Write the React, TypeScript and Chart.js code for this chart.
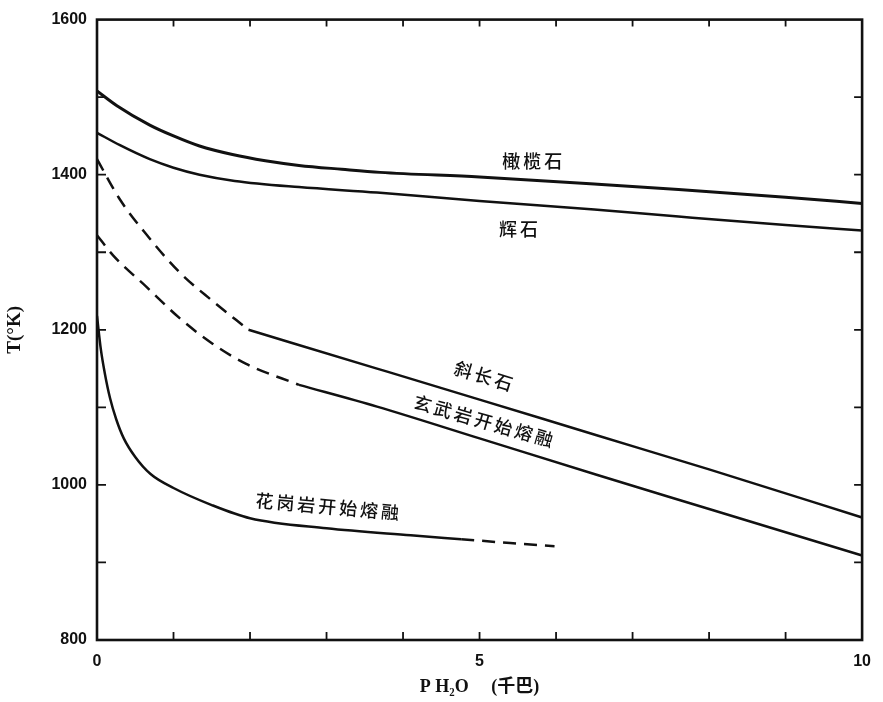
import React, { useEffect, useRef } from "react";
import { Chart, registerables } from "chart.js";

Chart.register(...registerables);

// ---- Data (P in kbar, T in °K) ----
const olivineP = [0, 0.26, 0.69, 1.0, 1.34, 1.77, 2.2, 2.64, 3.2, 3.7, 5.0, 6.5, 7.6, 9.0, 10];
const olivineT = [1508, 1489, 1464, 1450, 1437, 1426, 1418, 1412, 1407, 1403, 1397, 1388, 1381, 1371, 1363];

const pyroxeneP = [0, 0.3, 0.69, 1.0, 1.34, 1.8, 2.64, 3.66, 5.0, 6.5, 7.6, 9.0, 10];
const pyroxeneT = [1454, 1438, 1420, 1409, 1400, 1392, 1384, 1377, 1366, 1355, 1346, 1335, 1328];

const plagDashP = [0, 0.3, 0.62, 1.08, 1.5, 1.98];
const plagDashT = [1420, 1368, 1326, 1274, 1238, 1200];
const plagSolidP = [1.98, 3.66, 5.0, 6.53, 8.0, 10];
const plagSolidT = [1200, 1150, 1110, 1064, 1020, 958];

const basaltDashP = [0, 0.21, 0.65, 1.08, 1.51, 1.95, 2.64];
const basaltDashT = [1322, 1296, 1255, 1215, 1182, 1156, 1129];
const basaltSolidP = [2.64, 3.66, 5.0, 6.53, 8.0, 10];
const basaltSolidT = [1129, 1101, 1060, 1013, 969, 909];

const graniteSolidP = [0, 0.05, 0.1, 0.17, 0.25, 0.35, 0.5, 0.7, 1.0, 1.5, 2.0, 3.0, 4.1, 4.76];
const graniteSolidT = [1218, 1175, 1145, 1112, 1085, 1060, 1036, 1014, 996, 974, 957, 944, 935, 930];
const graniteDashP = [4.76, 5.4, 5.98];
const graniteDashT = [930, 925, 921];

// ---- Axis ticks ----
const xMinorTicks = [1, 2, 3, 4, 5, 6, 7, 8, 9];
const yMinorTicks = [900, 1000, 1100, 1200, 1300, 1400, 1500];

// ---- Curve labels ----
const labelTexts = ["橄榄石", "辉石", "斜长石", "玄武岩开始熔融", "花岗岩开始熔融"];
const labelP = [5.71, 5.53, 5.07, 5.07, 3.03];
const labelT = [1417, 1330, 1140, 1082, 972];
const labelAngles = [0, 0, 17, 16, 5];

const INK = "#111";

function pts(xs: number[], ys: number[]) {
  return xs.map((x, i) => ({ x, y: ys[i] }));
}

function line(xs: number[], ys: number[], width: number, dashed: boolean) {
  return {
    data: pts(xs, ys),
    borderColor: INK,
    borderWidth: width,
    borderDash: dashed ? [13, 8] : [],
    pointRadius: 0,
    fill: false,
    cubicInterpolationMode: "monotone" as const,
    borderCapStyle: "butt" as const,
  };
}

const frameTicksPlugin = {
  id: "frameTicks",
  afterDraw(chart: any) {
    const { ctx, chartArea: a, scales } = chart;
    const x = scales.x;
    const y = scales.y;
    ctx.save();
    ctx.strokeStyle = INK;
    ctx.lineWidth = 2.6;
    ctx.strokeRect(a.left, a.top, a.right - a.left, a.bottom - a.top);
    ctx.lineWidth = 1.8;
    ctx.beginPath();
    for (const v of xMinorTicks) {
      const px = x.getPixelForValue(v);
      ctx.moveTo(px, a.bottom);
      ctx.lineTo(px, a.bottom - 8);
      ctx.moveTo(px, a.top);
      ctx.lineTo(px, a.top + 7);
    }
    for (const v of yMinorTicks) {
      const py = y.getPixelForValue(v);
      ctx.moveTo(a.left, py);
      ctx.lineTo(a.left + 9, py);
      ctx.moveTo(a.right, py);
      ctx.lineTo(a.right - 8, py);
    }
    ctx.stroke();
    ctx.restore();
  },
};

const curveLabelsPlugin = {
  id: "curveLabels",
  afterDatasetsDraw(chart: any) {
    const { ctx, scales } = chart;
    ctx.save();
    ctx.fillStyle = INK;
    ctx.font = '500 18px "Noto Sans CJK SC", sans-serif';
    ctx.textAlign = "center";
    ctx.textBaseline = "middle";
    try {
      (ctx as any).letterSpacing = "3px";
    } catch (e) {}
    labelTexts.forEach((t, i) => {
      const px = scales.x.getPixelForValue(labelP[i]);
      const py = scales.y.getPixelForValue(labelT[i]);
      ctx.save();
      ctx.translate(px, py);
      ctx.rotate((labelAngles[i] * Math.PI) / 180);
      ctx.fillText(t, 0, 0);
      ctx.restore();
    });
    ctx.restore();
  },
};

export default function App() {
  const canvasRef = useRef<HTMLCanvasElement | null>(null);

  useEffect(() => {
    const canvas = canvasRef.current;
    if (!canvas) return;
    const chart = new Chart(canvas, {
      type: "line",
      data: {
        datasets: [
          line(olivineP, olivineT, 3, false),
          line(pyroxeneP, pyroxeneT, 2.5, false),
          line(plagDashP, plagDashT, 2.5, true),
          line(plagSolidP, plagSolidT, 2.5, false),
          line(basaltDashP, basaltDashT, 2.5, true),
          line(basaltSolidP, basaltSolidT, 2.5, false),
          line(graniteSolidP, graniteSolidT, 2.5, false),
          line(graniteDashP, graniteDashT, 2.5, true),
        ] as any,
      },
      options: {
        animation: false,
        responsive: false,
        layout: { padding: { top: 14, right: 17, left: 0, bottom: 0 } },
        plugins: {
          legend: { display: false },
          tooltip: { enabled: false },
        },
        scales: {
          x: {
            type: "linear",
            min: 0,
            max: 10,
            grid: { display: false, drawTicks: false },
            border: { display: false },
            ticks: {
              stepSize: 5,
              padding: 12,
              color: INK,
              maxRotation: 0,
              autoSkip: false,
              callback: (v: any) => String(v),
              font: { family: '"Liberation Sans", sans-serif', size: 16, weight: "bold" },
            },
            title: {
              display: true,
              text: "P H₂O     (千巴)",
              color: INK,
              padding: { top: 0, bottom: 4 },
              font: { family: '"Liberation Serif", "Noto Sans CJK SC", serif', size: 18, weight: "bold" },
            },
            afterFit: (s: any) => {
              s.height = 62;
            },
          },
          y: {
            type: "linear",
            min: 800,
            max: 1600,
            grid: { display: false, drawTicks: false },
            border: { display: false },
            ticks: {
              stepSize: 200,
              padding: 10,
              color: INK,
              autoSkip: false,
              callback: (v: any) => String(v),
              font: { family: '"Liberation Sans", sans-serif', size: 16, weight: "bold" },
            },
            title: {
              display: true,
              text: "T(°K)",
              color: INK,
              padding: { top: 4, bottom: 0 },
              font: { family: '"Liberation Serif", serif', size: 19, weight: "bold" },
            },
            afterFit: (s: any) => {
              s.width = 97;
            },
          },
        },
      } as any,
      plugins: [frameTicksPlugin, curveLabelsPlugin],
    });
    return () => chart.destroy();
  }, []);

  return (
    <canvas
      ref={canvasRef}
      width={883}
      height={702}
      style={{ position: "absolute", left: 0, top: 0, width: 883, height: 702, display: "block", background: "#fff" }}
    />
  );
}
